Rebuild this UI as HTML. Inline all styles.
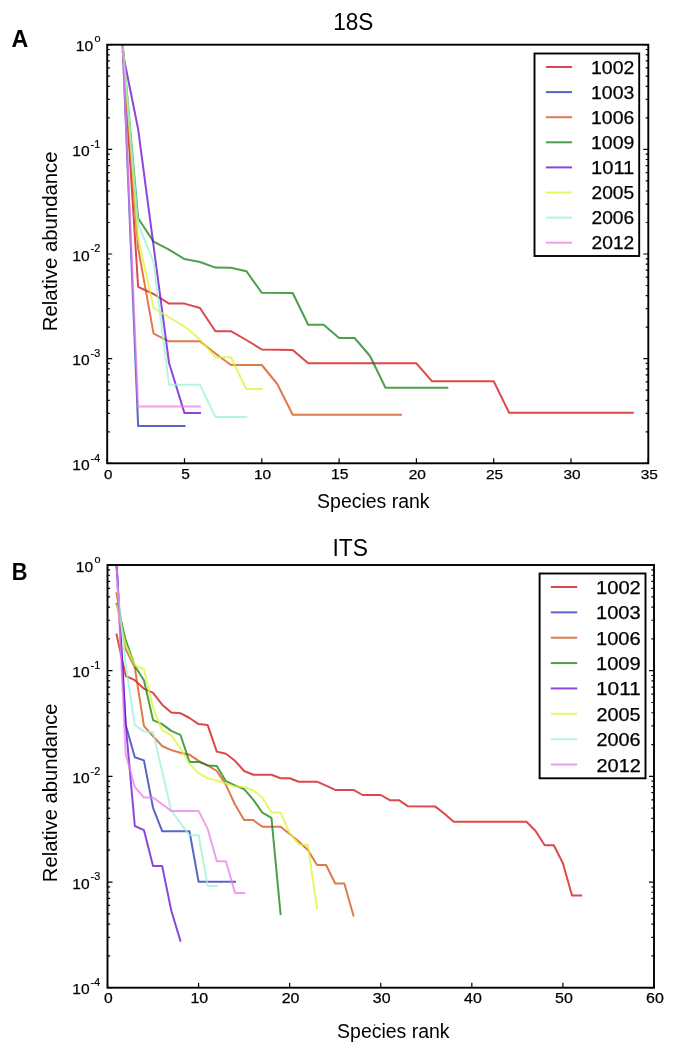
<!DOCTYPE html>
<html><head><meta charset="utf-8"><style>html,body{margin:0;padding:0;background:#fff;}svg{display:block;}</style></head><body>
<svg width="685" height="1049" viewBox="0 0 685 1049" font-family='"Liberation Sans", sans-serif'>
<rect width="685" height="1049" fill="#fff"/>
<clipPath id="c44"><rect x="107.2" y="44.7" width="541.0999999999999" height="418.6"/></clipPath>
<g clip-path="url(#c44)">
<polyline points="122.66,44.70 138.12,286.80 153.58,294.00 169.04,303.60 184.50,303.60 199.96,308.00 215.42,331.20 230.88,331.20 246.34,340.00 261.80,349.50 292.72,350.00 308.18,363.30 416.40,363.30 431.86,381.20 493.70,381.20 509.16,412.80 632.84,412.80" fill="none" stroke="rgb(208,11,15)" stroke-opacity="0.75" stroke-width="2" stroke-linejoin="round" stroke-linecap="square"/>
<polyline points="122.66,44.70 138.12,425.90 184.50,425.90" fill="none" stroke="rgb(32,48,182)" stroke-opacity="0.75" stroke-width="2" stroke-linejoin="round" stroke-linecap="square"/>
<polyline points="122.66,44.70 138.12,248.00 153.58,333.60 169.04,341.30 199.96,341.30 215.42,353.50 230.88,365.00 261.80,365.00 277.26,384.00 292.72,414.80 400.94,414.80" fill="none" stroke="rgb(211,78,15)" stroke-opacity="0.75" stroke-width="2" stroke-linejoin="round" stroke-linecap="square"/>
<polyline points="122.66,44.70 138.12,218.30 153.58,241.60 169.04,249.60 184.50,259.10 199.96,262.00 215.42,267.60 230.88,267.80 246.34,271.20 261.80,292.80 292.72,293.00 308.18,324.80 323.64,324.80 339.10,338.00 354.56,338.00 370.02,356.00 385.48,387.70 447.32,387.70" fill="none" stroke="rgb(19,126,19)" stroke-opacity="0.75" stroke-width="2" stroke-linejoin="round" stroke-linecap="square"/>
<polyline points="122.66,52.00 138.12,129.00 169.04,363.00 184.50,413.10 199.96,413.10" fill="none" stroke="rgb(102,8,208)" stroke-opacity="0.75" stroke-width="2" stroke-linejoin="round" stroke-linecap="square"/>
<polyline points="122.66,44.70 138.12,238.00 153.58,308.00 184.50,326.50 199.96,339.50 215.42,357.20 230.88,357.20 246.34,389.10 261.80,389.10" fill="none" stroke="rgb(219,246,48)" stroke-opacity="0.75" stroke-width="2" stroke-linejoin="round" stroke-linecap="square"/>
<polyline points="122.66,44.70 138.12,224.00 153.58,262.00 169.04,384.70 199.96,384.70 215.42,416.90 246.34,416.90" fill="none" stroke="rgb(155,242,215)" stroke-opacity="0.75" stroke-width="2" stroke-linejoin="round" stroke-linecap="square"/>
<polyline points="122.66,44.70 138.12,406.60 199.96,406.60" fill="none" stroke="rgb(232,128,232)" stroke-opacity="0.75" stroke-width="2" stroke-linejoin="round" stroke-linecap="square"/>
</g>
<path d="M107.2,44.70h5M648.3,44.70h-5M107.2,117.85h2.6M648.3,117.85h-2.6M107.2,99.42h2.6M648.3,99.42h-2.6M107.2,86.34h2.6M648.3,86.34h-2.6M107.2,76.20h2.6M648.3,76.20h-2.6M107.2,67.92h2.6M648.3,67.92h-2.6M107.2,60.91h2.6M648.3,60.91h-2.6M107.2,54.84h2.6M648.3,54.84h-2.6M107.2,49.49h2.6M648.3,49.49h-2.6M107.2,149.35h5M648.3,149.35h-5M107.2,222.50h2.6M648.3,222.50h-2.6M107.2,204.07h2.6M648.3,204.07h-2.6M107.2,190.99h2.6M648.3,190.99h-2.6M107.2,180.85h2.6M648.3,180.85h-2.6M107.2,172.57h2.6M648.3,172.57h-2.6M107.2,165.56h2.6M648.3,165.56h-2.6M107.2,159.49h2.6M648.3,159.49h-2.6M107.2,154.14h2.6M648.3,154.14h-2.6M107.2,254.00h5M648.3,254.00h-5M107.2,327.15h2.6M648.3,327.15h-2.6M107.2,308.72h2.6M648.3,308.72h-2.6M107.2,295.64h2.6M648.3,295.64h-2.6M107.2,285.50h2.6M648.3,285.50h-2.6M107.2,277.22h2.6M648.3,277.22h-2.6M107.2,270.21h2.6M648.3,270.21h-2.6M107.2,264.14h2.6M648.3,264.14h-2.6M107.2,258.79h2.6M648.3,258.79h-2.6M107.2,358.65h5M648.3,358.65h-5M107.2,431.80h2.6M648.3,431.80h-2.6M107.2,413.37h2.6M648.3,413.37h-2.6M107.2,400.29h2.6M648.3,400.29h-2.6M107.2,390.15h2.6M648.3,390.15h-2.6M107.2,381.87h2.6M648.3,381.87h-2.6M107.2,374.86h2.6M648.3,374.86h-2.6M107.2,368.79h2.6M648.3,368.79h-2.6M107.2,363.44h2.6M648.3,363.44h-2.6M107.2,463.30h5M648.3,463.30h-5M107.20,463.3v-5M184.50,463.3v-5M261.80,463.3v-5M339.10,463.3v-5M416.40,463.3v-5M493.70,463.3v-5M571.00,463.3v-5M648.30,463.3v-5" stroke="#000" stroke-width="1.2" fill="none"/>
<rect x="107.2" y="44.7" width="541.0999999999999" height="418.6" fill="none" stroke="#000" stroke-width="1.9"/>
<clipPath id="c565"><rect x="107.5" y="565.0" width="546.5" height="422.70000000000005"/></clipPath>
<g clip-path="url(#c565)">
<polyline points="116.61,634.60 125.72,676.00 134.82,680.20 143.93,688.70 153.04,692.80 162.15,704.70 171.26,712.40 180.37,713.20 189.47,718.00 198.58,724.10 207.69,725.10 216.80,751.60 225.91,753.80 235.02,760.80 244.12,771.00 253.23,774.70 271.45,774.70 280.56,778.20 289.67,778.20 298.77,781.70 316.99,781.70 326.10,785.70 335.21,789.90 353.43,789.90 362.53,795.00 380.75,795.00 389.86,800.20 398.97,800.20 408.07,806.30 435.40,806.60 444.51,813.70 453.62,821.80 526.48,821.80 535.59,831.00 544.70,845.20 553.81,845.20 562.92,863.30 572.02,895.50 581.13,895.50" fill="none" stroke="rgb(208,11,15)" stroke-opacity="0.75" stroke-width="2" stroke-linejoin="round" stroke-linecap="square"/>
<polyline points="116.61,565.00 125.72,725.00 134.82,757.30 143.93,760.40 153.04,807.80 162.15,831.20 189.47,831.20 198.58,881.70 235.02,881.70" fill="none" stroke="rgb(32,48,182)" stroke-opacity="0.75" stroke-width="2" stroke-linejoin="round" stroke-linecap="square"/>
<polyline points="116.61,593.40 125.72,649.00 134.82,667.50 143.93,725.90 153.04,736.30 162.15,746.00 171.26,750.10 180.37,752.70 189.47,754.70 198.58,760.90 207.69,765.40 216.80,771.00 225.91,784.80 235.02,804.50 244.12,820.10 253.23,820.10 262.34,826.70 280.56,826.70 289.67,834.00 298.77,841.50 307.88,849.90 316.99,865.00 326.10,865.00 335.21,883.50 344.32,883.50 353.43,915.60" fill="none" stroke="rgb(211,78,15)" stroke-opacity="0.75" stroke-width="2" stroke-linejoin="round" stroke-linecap="square"/>
<polyline points="116.61,604.00 125.72,640.00 134.82,666.00 143.93,680.20 153.04,720.10 162.15,724.10 171.26,730.90 180.37,734.80 189.47,761.90 198.58,761.90 207.69,765.40 216.80,765.90 225.91,781.20 235.02,785.50 244.12,789.10 253.23,799.70 262.34,812.60 271.45,817.90 280.56,914.20" fill="none" stroke="rgb(19,126,19)" stroke-opacity="0.75" stroke-width="2" stroke-linejoin="round" stroke-linecap="square"/>
<polyline points="116.61,565.00 125.72,725.00 134.82,826.00 143.93,830.10 153.04,866.00 162.15,866.00 171.26,910.50 180.37,940.70" fill="none" stroke="rgb(102,8,208)" stroke-opacity="0.75" stroke-width="2" stroke-linejoin="round" stroke-linecap="square"/>
<polyline points="116.61,605.50 125.72,645.00 134.82,665.50 143.93,669.00 153.04,708.00 162.15,730.20 171.26,735.30 180.37,748.60 189.47,763.90 198.58,773.10 207.69,778.10 216.80,780.70 225.91,783.30 235.02,786.60 244.12,786.90 253.23,790.50 262.34,797.50 271.45,812.60 280.56,812.60 289.67,833.10 298.77,844.50 307.88,844.80 316.99,908.30" fill="none" stroke="rgb(219,246,48)" stroke-opacity="0.75" stroke-width="2" stroke-linejoin="round" stroke-linecap="square"/>
<polyline points="116.61,580.00 125.72,665.00 134.82,725.20 143.93,731.40 153.04,732.30 171.26,810.50 189.47,835.30 198.58,835.30 207.69,885.90 216.80,885.90" fill="none" stroke="rgb(155,242,215)" stroke-opacity="0.75" stroke-width="2" stroke-linejoin="round" stroke-linecap="square"/>
<polyline points="116.61,565.00 125.72,754.50 134.82,787.00 143.93,797.50 153.04,797.50 171.26,810.90 198.58,810.90 207.69,828.90 216.80,861.30 225.91,861.30 235.02,892.90 244.12,892.90" fill="none" stroke="rgb(232,128,232)" stroke-opacity="0.75" stroke-width="2" stroke-linejoin="round" stroke-linecap="square"/>
</g>
<path d="M107.5,565.00h5M654.0,565.00h-5M107.5,638.86h2.6M654.0,638.86h-2.6M107.5,620.26h2.6M654.0,620.26h-2.6M107.5,607.05h2.6M654.0,607.05h-2.6M107.5,596.81h2.6M654.0,596.81h-2.6M107.5,588.44h2.6M654.0,588.44h-2.6M107.5,581.37h2.6M654.0,581.37h-2.6M107.5,575.24h2.6M654.0,575.24h-2.6M107.5,569.84h2.6M654.0,569.84h-2.6M107.5,670.67h5M654.0,670.67h-5M107.5,744.54h2.6M654.0,744.54h-2.6M107.5,725.93h2.6M654.0,725.93h-2.6M107.5,712.73h2.6M654.0,712.73h-2.6M107.5,702.49h2.6M654.0,702.49h-2.6M107.5,694.12h2.6M654.0,694.12h-2.6M107.5,687.04h2.6M654.0,687.04h-2.6M107.5,680.92h2.6M654.0,680.92h-2.6M107.5,675.51h2.6M654.0,675.51h-2.6M107.5,776.35h5M654.0,776.35h-5M107.5,850.21h2.6M654.0,850.21h-2.6M107.5,831.61h2.6M654.0,831.61h-2.6M107.5,818.40h2.6M654.0,818.40h-2.6M107.5,808.16h2.6M654.0,808.16h-2.6M107.5,799.79h2.6M654.0,799.79h-2.6M107.5,792.72h2.6M654.0,792.72h-2.6M107.5,786.59h2.6M654.0,786.59h-2.6M107.5,781.19h2.6M654.0,781.19h-2.6M107.5,882.03h5M654.0,882.03h-5M107.5,955.89h2.6M654.0,955.89h-2.6M107.5,937.28h2.6M654.0,937.28h-2.6M107.5,924.08h2.6M654.0,924.08h-2.6M107.5,913.84h2.6M654.0,913.84h-2.6M107.5,905.47h2.6M654.0,905.47h-2.6M107.5,898.39h2.6M654.0,898.39h-2.6M107.5,892.27h2.6M654.0,892.27h-2.6M107.5,886.86h2.6M654.0,886.86h-2.6M107.5,987.70h5M654.0,987.70h-5M107.50,987.7v-5M198.58,987.7v-5M289.67,987.7v-5M380.75,987.7v-5M471.83,987.7v-5M562.92,987.7v-5M654.00,987.7v-5" stroke="#000" stroke-width="1.2" fill="none"/>
<rect x="107.5" y="565.0" width="546.5" height="422.70000000000005" fill="none" stroke="#000" stroke-width="1.9"/>
<rect x="534.5" y="53.5" width="104.70000000000005" height="202.5" fill="#fff" stroke="#000" stroke-width="1.9"/>
<line x1="545.9" y1="67.00" x2="572.1" y2="67.00" stroke="rgb(208,11,15)" stroke-opacity="0.75" stroke-width="2"/>
<line x1="545.9" y1="92.10" x2="572.1" y2="92.10" stroke="rgb(32,48,182)" stroke-opacity="0.75" stroke-width="2"/>
<line x1="545.9" y1="117.20" x2="572.1" y2="117.20" stroke="rgb(211,78,15)" stroke-opacity="0.75" stroke-width="2"/>
<line x1="545.9" y1="142.30" x2="572.1" y2="142.30" stroke="rgb(19,126,19)" stroke-opacity="0.75" stroke-width="2"/>
<line x1="545.9" y1="167.40" x2="572.1" y2="167.40" stroke="rgb(102,8,208)" stroke-opacity="0.75" stroke-width="2"/>
<line x1="545.9" y1="192.50" x2="572.1" y2="192.50" stroke="rgb(219,246,48)" stroke-opacity="0.75" stroke-width="2"/>
<line x1="545.9" y1="217.60" x2="572.1" y2="217.60" stroke="rgb(155,242,215)" stroke-opacity="0.75" stroke-width="2"/>
<line x1="545.9" y1="242.70" x2="572.1" y2="242.70" stroke="rgb(232,128,232)" stroke-opacity="0.75" stroke-width="2"/>
<rect x="539.6" y="573.5" width="105.89999999999998" height="204.79999999999995" fill="#fff" stroke="#000" stroke-width="1.9"/>
<line x1="550.8" y1="587.00" x2="577.2" y2="587.00" stroke="rgb(208,11,15)" stroke-opacity="0.75" stroke-width="2"/>
<line x1="550.8" y1="612.36" x2="577.2" y2="612.36" stroke="rgb(32,48,182)" stroke-opacity="0.75" stroke-width="2"/>
<line x1="550.8" y1="637.72" x2="577.2" y2="637.72" stroke="rgb(211,78,15)" stroke-opacity="0.75" stroke-width="2"/>
<line x1="550.8" y1="663.08" x2="577.2" y2="663.08" stroke="rgb(19,126,19)" stroke-opacity="0.75" stroke-width="2"/>
<line x1="550.8" y1="688.44" x2="577.2" y2="688.44" stroke="rgb(102,8,208)" stroke-opacity="0.75" stroke-width="2"/>
<line x1="550.8" y1="713.80" x2="577.2" y2="713.80" stroke="rgb(219,246,48)" stroke-opacity="0.75" stroke-width="2"/>
<line x1="550.8" y1="739.16" x2="577.2" y2="739.16" stroke="rgb(155,242,215)" stroke-opacity="0.75" stroke-width="2"/>
<line x1="550.8" y1="764.52" x2="577.2" y2="764.52" stroke="rgb(232,128,232)" stroke-opacity="0.75" stroke-width="2"/>
<circle cx="374.6" cy="1025" r="0.8" fill="#222"/>
<g style="filter:grayscale(1)">
<text x="75.84" y="51.48" font-size="14.68" textLength="17.35" lengthAdjust="spacingAndGlyphs" fill="#000" stroke="#000" stroke-width="0.25">10</text>
<text x="94.48" y="42.30" font-size="9.74" textLength="6.05" lengthAdjust="spacingAndGlyphs" fill="#000" stroke="#000" stroke-width="0.2">0</text>
<text x="72.24" y="156.13" font-size="14.68" textLength="17.35" lengthAdjust="spacingAndGlyphs" fill="#000" stroke="#000" stroke-width="0.25">10</text>
<text x="90.61" y="147.65" font-size="10.17" textLength="9.72" lengthAdjust="spacingAndGlyphs" fill="#000" stroke="#000" stroke-width="0.2">-1</text>
<text x="72.24" y="260.77" font-size="14.68" textLength="17.35" lengthAdjust="spacingAndGlyphs" fill="#000" stroke="#000" stroke-width="0.25">10</text>
<text x="90.61" y="252.30" font-size="10.03" textLength="9.74" lengthAdjust="spacingAndGlyphs" fill="#000" stroke="#000" stroke-width="0.2">-2</text>
<text x="72.24" y="365.43" font-size="14.68" textLength="17.35" lengthAdjust="spacingAndGlyphs" fill="#000" stroke="#000" stroke-width="0.25">10</text>
<text x="90.62" y="356.95" font-size="10.03" textLength="9.66" lengthAdjust="spacingAndGlyphs" fill="#000" stroke="#000" stroke-width="0.2">-3</text>
<text x="72.24" y="470.07" font-size="14.68" textLength="17.35" lengthAdjust="spacingAndGlyphs" fill="#000" stroke="#000" stroke-width="0.25">10</text>
<text x="90.63" y="461.60" font-size="10.17" textLength="9.49" lengthAdjust="spacingAndGlyphs" fill="#000" stroke="#000" stroke-width="0.2">-4</text>
<text x="103.97" y="478.68" font-size="13.68" textLength="8.45" lengthAdjust="spacingAndGlyphs" fill="#000" stroke="#000" stroke-width="0.25">0</text>
<text x="181.23" y="478.68" font-size="13.88" textLength="8.58" lengthAdjust="spacingAndGlyphs" fill="#000" stroke="#000" stroke-width="0.25">5</text>
<text x="253.91" y="478.68" font-size="13.68" textLength="17.21" lengthAdjust="spacingAndGlyphs" fill="#000" stroke="#000" stroke-width="0.25">10</text>
<text x="331.10" y="478.68" font-size="13.88" textLength="17.47" lengthAdjust="spacingAndGlyphs" fill="#000" stroke="#000" stroke-width="0.25">15</text>
<text x="408.71" y="478.68" font-size="13.68" textLength="17.21" lengthAdjust="spacingAndGlyphs" fill="#000" stroke="#000" stroke-width="0.25">20</text>
<text x="486.03" y="478.68" font-size="13.68" textLength="17.21" lengthAdjust="spacingAndGlyphs" fill="#000" stroke="#000" stroke-width="0.25">25</text>
<text x="563.40" y="478.68" font-size="13.68" textLength="17.22" lengthAdjust="spacingAndGlyphs" fill="#000" stroke="#000" stroke-width="0.25">30</text>
<text x="640.72" y="478.68" font-size="13.68" textLength="17.22" lengthAdjust="spacingAndGlyphs" fill="#000" stroke="#000" stroke-width="0.25">35</text>
<text x="75.84" y="571.77" font-size="14.68" textLength="17.35" lengthAdjust="spacingAndGlyphs" fill="#000" stroke="#000" stroke-width="0.25">10</text>
<text x="94.48" y="562.60" font-size="9.74" textLength="6.05" lengthAdjust="spacingAndGlyphs" fill="#000" stroke="#000" stroke-width="0.2">0</text>
<text x="72.24" y="677.45" font-size="14.68" textLength="17.35" lengthAdjust="spacingAndGlyphs" fill="#000" stroke="#000" stroke-width="0.25">10</text>
<text x="90.61" y="668.97" font-size="10.17" textLength="9.72" lengthAdjust="spacingAndGlyphs" fill="#000" stroke="#000" stroke-width="0.2">-1</text>
<text x="72.24" y="783.12" font-size="14.68" textLength="17.35" lengthAdjust="spacingAndGlyphs" fill="#000" stroke="#000" stroke-width="0.25">10</text>
<text x="90.61" y="774.65" font-size="10.03" textLength="9.74" lengthAdjust="spacingAndGlyphs" fill="#000" stroke="#000" stroke-width="0.2">-2</text>
<text x="72.24" y="888.80" font-size="14.68" textLength="17.35" lengthAdjust="spacingAndGlyphs" fill="#000" stroke="#000" stroke-width="0.25">10</text>
<text x="90.62" y="880.33" font-size="10.03" textLength="9.66" lengthAdjust="spacingAndGlyphs" fill="#000" stroke="#000" stroke-width="0.2">-3</text>
<text x="72.24" y="994.48" font-size="14.68" textLength="17.35" lengthAdjust="spacingAndGlyphs" fill="#000" stroke="#000" stroke-width="0.25">10</text>
<text x="90.63" y="986.00" font-size="10.17" textLength="9.49" lengthAdjust="spacingAndGlyphs" fill="#000" stroke="#000" stroke-width="0.2">-4</text>
<text x="104.14" y="1003.08" font-size="14.11" textLength="8.72" lengthAdjust="spacingAndGlyphs" fill="#000" stroke="#000" stroke-width="0.25">0</text>
<text x="190.42" y="1003.08" font-size="14.11" textLength="17.74" lengthAdjust="spacingAndGlyphs" fill="#000" stroke="#000" stroke-width="0.25">10</text>
<text x="281.70" y="1003.08" font-size="14.11" textLength="17.75" lengthAdjust="spacingAndGlyphs" fill="#000" stroke="#000" stroke-width="0.25">20</text>
<text x="372.88" y="1003.08" font-size="14.11" textLength="17.75" lengthAdjust="spacingAndGlyphs" fill="#000" stroke="#000" stroke-width="0.25">30</text>
<text x="464.08" y="1003.08" font-size="14.11" textLength="17.76" lengthAdjust="spacingAndGlyphs" fill="#000" stroke="#000" stroke-width="0.25">40</text>
<text x="555.03" y="1003.08" font-size="14.11" textLength="17.75" lengthAdjust="spacingAndGlyphs" fill="#000" stroke="#000" stroke-width="0.25">50</text>
<text x="646.03" y="1003.08" font-size="14.11" textLength="17.75" lengthAdjust="spacingAndGlyphs" fill="#000" stroke="#000" stroke-width="0.25">60</text>
<text x="11.42" y="46.80" font-size="24.56" font-weight="bold" textLength="16.79" lengthAdjust="spacingAndGlyphs" fill="#000">A</text>
<text x="11.64" y="579.50" font-size="24.13" font-weight="bold" textLength="15.75" lengthAdjust="spacingAndGlyphs" fill="#000">B</text>
<text x="333.18" y="29.80" font-size="23.49" textLength="40.15" lengthAdjust="spacingAndGlyphs" fill="#000">18S</text>
<text x="332.49" y="555.50" font-size="24.35" textLength="35.56" lengthAdjust="spacingAndGlyphs" fill="#000">ITS</text>
<text x="317.12" y="508.00" font-size="20.15" textLength="112.45" lengthAdjust="spacingAndGlyphs" fill="#000">Species rank</text>
<text x="337.12" y="1037.60" font-size="20.01" textLength="112.45" lengthAdjust="spacingAndGlyphs" fill="#000">Species rank</text>
<g transform="rotate(-90)"><text x="-331.17" y="56.70" font-size="20.56" textLength="179.67" lengthAdjust="spacingAndGlyphs" fill="#000">Relative abundance</text></g>
<g transform="rotate(-90)"><text x="-882.16" y="56.70" font-size="20.56" textLength="178.76" lengthAdjust="spacingAndGlyphs" fill="#000">Relative abundance</text></g>
<text x="591.04" y="73.78" font-size="17.83" textLength="43.31" lengthAdjust="spacingAndGlyphs" fill="#000" stroke="#000" stroke-width="0.25">1002</text>
<text x="591.05" y="98.88" font-size="17.83" textLength="43.18" lengthAdjust="spacingAndGlyphs" fill="#000" stroke="#000" stroke-width="0.25">1003</text>
<text x="591.05" y="123.98" font-size="17.83" textLength="43.18" lengthAdjust="spacingAndGlyphs" fill="#000" stroke="#000" stroke-width="0.25">1006</text>
<text x="591.04" y="149.08" font-size="17.83" textLength="43.25" lengthAdjust="spacingAndGlyphs" fill="#000" stroke="#000" stroke-width="0.25">1009</text>
<text x="591.04" y="174.18" font-size="17.83" textLength="43.28" lengthAdjust="spacingAndGlyphs" fill="#000" stroke="#000" stroke-width="0.25">1011</text>
<text x="591.56" y="199.28" font-size="17.83" textLength="42.62" lengthAdjust="spacingAndGlyphs" fill="#000" stroke="#000" stroke-width="0.25">2005</text>
<text x="591.56" y="224.38" font-size="17.83" textLength="42.66" lengthAdjust="spacingAndGlyphs" fill="#000" stroke="#000" stroke-width="0.25">2006</text>
<text x="591.56" y="249.48" font-size="17.83" textLength="42.78" lengthAdjust="spacingAndGlyphs" fill="#000" stroke="#000" stroke-width="0.25">2012</text>
<text x="595.99" y="593.98" font-size="17.83" textLength="44.80" lengthAdjust="spacingAndGlyphs" fill="#000" stroke="#000" stroke-width="0.25">1002</text>
<text x="596.00" y="619.34" font-size="17.83" textLength="44.66" lengthAdjust="spacingAndGlyphs" fill="#000" stroke="#000" stroke-width="0.25">1003</text>
<text x="596.00" y="644.70" font-size="17.83" textLength="44.66" lengthAdjust="spacingAndGlyphs" fill="#000" stroke="#000" stroke-width="0.25">1006</text>
<text x="595.99" y="670.06" font-size="17.83" textLength="44.73" lengthAdjust="spacingAndGlyphs" fill="#000" stroke="#000" stroke-width="0.25">1009</text>
<text x="595.99" y="695.41" font-size="17.83" textLength="44.77" lengthAdjust="spacingAndGlyphs" fill="#000" stroke="#000" stroke-width="0.25">1011</text>
<text x="596.53" y="720.77" font-size="17.83" textLength="44.08" lengthAdjust="spacingAndGlyphs" fill="#000" stroke="#000" stroke-width="0.25">2005</text>
<text x="596.53" y="746.13" font-size="17.83" textLength="44.12" lengthAdjust="spacingAndGlyphs" fill="#000" stroke="#000" stroke-width="0.25">2006</text>
<text x="596.52" y="771.50" font-size="17.83" textLength="44.25" lengthAdjust="spacingAndGlyphs" fill="#000" stroke="#000" stroke-width="0.25">2012</text>
</g>
</svg>
</body></html>
